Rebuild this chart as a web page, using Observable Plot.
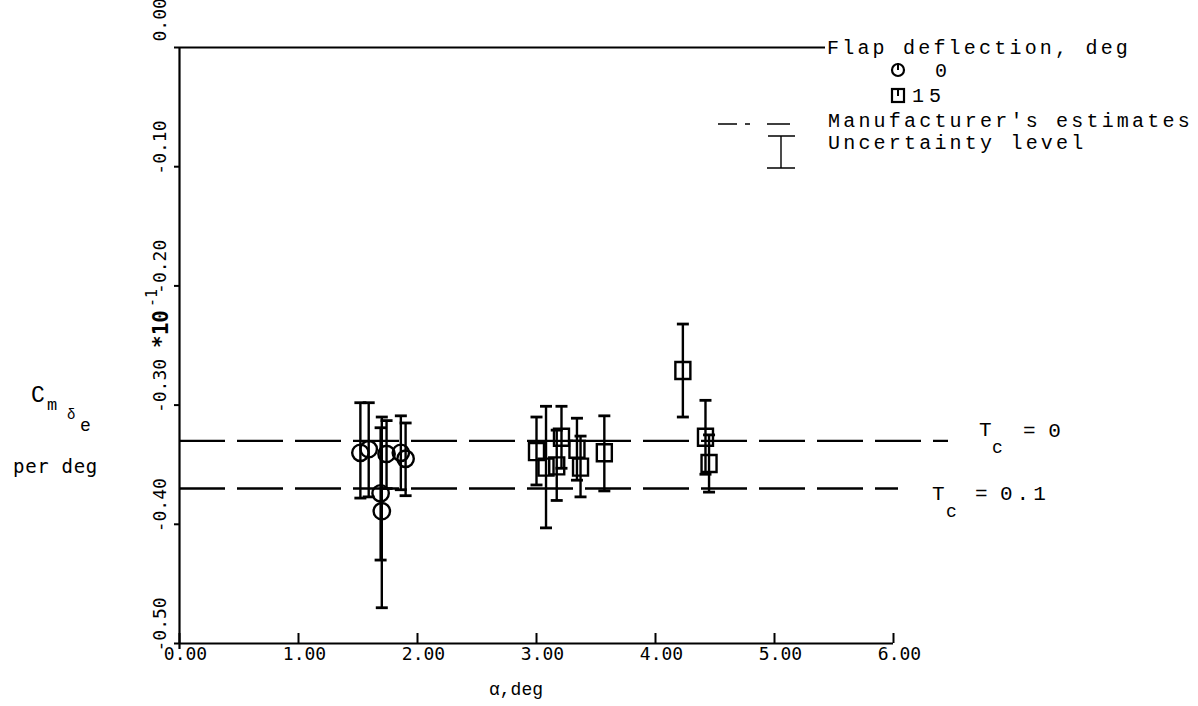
<!DOCTYPE html>
<html>
<head>
<meta charset="utf-8">
<script src="https://cdn.jsdelivr.net/npm/d3@7"></script>
<script src="https://cdn.jsdelivr.net/npm/@observablehq/plot@0.6"></script>
<style>
  html, body { margin: 0; padding: 0; background: #fff; }
  #chart { width: 1198px; height: 706px; }
</style>
</head>
<body>
<div id="chart"></div>
<script>
// Flap deflection 0 deg: angle of attack (deg), Cm_delta_e (per deg, x10^-1) and uncertainty limits
const flap0Alpha = [1.52, 1.59, 1.74, 1.70, 1.69, 1.86, 1.90];
const flap0Cm    = [-0.340, -0.337, -0.341, -0.389, -0.374, -0.340, -0.345];
const flap0Upper = [-0.298, -0.298, -0.313, -0.310, -0.319, -0.309, -0.315];
const flap0Lower = [-0.378, -0.377, -0.370, -0.470, -0.430, -0.371, -0.376];

// Flap deflection 15 deg
const flap15Alpha = [3.00, 3.08, 3.17, 3.21, 3.34, 3.37, 3.57, 4.23, 4.42, 4.45];
const flap15Cm    = [-0.339, -0.352, -0.351, -0.327, -0.337, -0.352, -0.340, -0.271, -0.327, -0.349];
const flap15Upper = [-0.310, -0.301, -0.321, -0.301, -0.311, -0.326, -0.309, -0.232, -0.296, -0.325];
const flap15Lower = [-0.367, -0.403, -0.380, -0.353, -0.363, -0.377, -0.372, -0.310, -0.358, -0.373];

// Manufacturer's estimates for two thrust coefficients
const estimateTc = ["0", "0.1"];
const estimateCm = [-0.33, -0.37];

// Axis ticks
const xTickValues = [0, 1, 2, 3, 4, 5, 6];
const xTickLabels = ["0.00", "1.00", "2.00", "3.00", "4.00", "5.00", "6.00"];
const yTickValues = [0, -0.1, -0.2, -0.3, -0.4, -0.5];
const yTickLabels = ["0.00", "-0.10", "-0.20", "-0.30", "-0.40", "-0.50"];

const flap0 = flap0Alpha.map((a, i) => ({alpha: a, cm: flap0Cm[i], hi: flap0Upper[i], lo: flap0Lower[i]}));
const flap15 = flap15Alpha.map((a, i) => ({alpha: a, cm: flap15Cm[i], hi: flap15Upper[i], lo: flap15Lower[i]}));
const estimates = estimateTc.map((t, i) => ({tc: t, cm: estimateCm[i]}));

const mono = "'Liberation Mono', 'DejaVu Sans Mono', monospace";
const plotterFont = "'DejaVu Sans Mono', monospace";

// horizontal cap drawn at the ends of each uncertainty bar
const capSymbol = { draw(context) { context.moveTo(-6, 0); context.lineTo(6, 0); } };
// plotter square, drawn slightly taller than wide
const boxSymbol = { draw(context) { context.rect(-7.5, -8.5, 15, 17); } };

function errorMarks(data) {
  return [
    Plot.ruleX(data, {x: "alpha", y1: "lo", y2: "hi", stroke: "black", strokeWidth: 2.4}),
    Plot.dot(data, {x: "alpha", y: "hi", symbol: capSymbol, fill: "none", stroke: "black", strokeWidth: 2.8}),
    Plot.dot(data, {x: "alpha", y: "lo", symbol: capSymbol, fill: "none", stroke: "black", strokeWidth: 2.8})
  ];
}

const chart = Plot.plot({
  width: 1198,
  height: 706,
  marginLeft: 179,
  marginRight: 305,
  marginTop: 47,
  marginBottom: 63,
  x: {domain: [0, 6], axis: null},
  y: {domain: [-0.5, 0], axis: null},
  style: {background: "white", color: "black", overflow: "visible"},
  marks: [
    // axes frame: left axis, bottom axis, top line running to the legend
    Plot.ruleX([0], {stroke: "black", strokeWidth: 2.2, insetBottom: -6}),
    Plot.ruleY([-0.5], {stroke: "black", strokeWidth: 2.2}),
    Plot.ruleY([0], {stroke: "black", strokeWidth: 2, insetRight: 68}),
    // tick marks
    Plot.tickX(xTickValues, {x: d => d, stroke: "black", strokeWidth: 2, insetTop: 586}),
    Plot.tickY(yTickValues, {y: d => d, stroke: "black", strokeWidth: 2, insetRight: 709, dx: -5}),
    // tick labels
    Plot.text(xTickValues, {x: d => d, frameAnchor: "bottom", text: (d, i) => xTickLabels[i],
      dy: 16, dx: 6, fontFamily: plotterFont, fontSize: 18, fill: "black"}),
    Plot.text(yTickValues.map((v, i) => ({v, label: yTickLabels[i]})).filter(d => d.v < 0),
      {y: "v", text: "label", frameAnchor: "left", rotate: -90, textAnchor: "start",
       dx: -19, dy: 8, fontFamily: plotterFont, fontSize: 18, fill: "black"}),
    Plot.text(yTickValues.map((v, i) => ({v, label: yTickLabels[i]})).filter(d => d.v >= 0),
      {y: "v", text: "label", frameAnchor: "left", rotate: -90, textAnchor: "start",
       dx: -19, dy: -6, fontFamily: plotterFont, fontSize: 18, fill: "black"}),
    // manufacturer's estimates
    Plot.ruleY(estimates.slice(0, 1), {y: "cm", stroke: "black", strokeWidth: 2.4,
      strokeDasharray: "46 12", insetRight: -55}),
    Plot.ruleY(estimates.slice(1), {y: "cm", stroke: "black", strokeWidth: 2.4,
      strokeDasharray: "46 12", insetRight: -5}),
    // measured values with uncertainty levels
    ...errorMarks(flap0),
    ...errorMarks(flap15),
    Plot.dot(flap0, {x: "alpha", y: "cm", symbol: "circle", r: 8.2, fill: "none", stroke: "black", strokeWidth: 2.4}),
    Plot.dot(flap15, {x: "alpha", y: "cm", symbol: boxSymbol, fill: "none", stroke: "black", strokeWidth: 2.4})
  ]
});

document.getElementById("chart").append(chart);

// annotations: legend, axis titles and thrust-coefficient labels
const yScale = chart.scale("y");
const svg = d3.select(chart);
const ann = svg.append("g").attr("fill", "black").attr("font-family", mono).attr("text-anchor", "start");

function label(x, y, str, size, spacing = 0, anchor = "start") {
  return ann.append("text").attr("x", x).attr("y", y).attr("font-size", size)
    .attr("letter-spacing", spacing).attr("text-anchor", anchor).text(str);
}

// legend
label(827, 54, "Flap deflection, deg", 20, 3.2);
ann.append("circle").attr("cx", 898).attr("cy", 70).attr("r", 6)
  .attr("fill", "none").attr("stroke", "black").attr("stroke-width", 2.2);
ann.append("path").attr("d", "M898,63V70").attr("stroke", "black").attr("stroke-width", 2);
label(935, 77, "0", 20);
ann.append("rect").attr("x", 892).attr("y", 89).attr("width", 12).attr("height", 13)
  .attr("fill", "none").attr("stroke", "black").attr("stroke-width", 2.2);
ann.append("path").attr("d", "M898,89V96").attr("stroke", "black").attr("stroke-width", 2);
label(912, 102, "15", 20, 5);
ann.append("path").attr("d", "M718,124H737M745,124H750M767,124H790")
  .attr("stroke", "black").attr("stroke-width", 1.6).attr("fill", "none");
label(828, 127, "Manufacturer's estimates", 20, 3.2);
ann.append("path").attr("d", "M781,136V168M768,136H795M767,168H795")
  .attr("stroke", "black").attr("stroke-width", 1.4).attr("fill", "none");
label(828, 149, "Uncertainty level", 20, 3.2);

// thrust coefficient labels beside the estimate lines
const yTc0 = yScale.apply(estimateCm[0]);
const yTc1 = yScale.apply(estimateCm[1]);
label(979, yTc0 - 4, "T", 21);
label(992, yTc0 + 13, "c", 18);
label(1023, yTc0 - 3, "= 0", 21);
label(932, yTc1 + 12, "T", 21);
label(946, yTc1 + 29, "c", 18);
label(975, yTc1 + 12, "=", 21);
label(1000, yTc1 + 12, "0.1", 21, 4);

// x axis title
label(516, 695, "\u03b1,deg", 18, 0, "middle");

// y axis title
label(31, 402, "C", 23);
label(47, 410, "m", 17);
label(67, 419, "\u03b4", 14);
label(80, 431, "e", 18);
ann.append("text").attr("x", 13).attr("y", 473).attr("font-size", 19).attr("letter-spacing", 0.7)
  .attr("font-family", plotterFont).attr("text-anchor", "start").text("per deg");

// scale multiplier, rotated along the y axis
ann.append("text").attr("transform", "translate(168,348) rotate(-90)").attr("text-anchor", "start")
  .attr("font-size", 21).attr("font-weight", "bold").attr("font-family", plotterFont).text("*10");
ann.append("text").attr("transform", "translate(157,307) rotate(-90)").attr("text-anchor", "start")
  .attr("font-size", 15).attr("font-family", plotterFont).text("-1");
</script>
</body>
</html>
